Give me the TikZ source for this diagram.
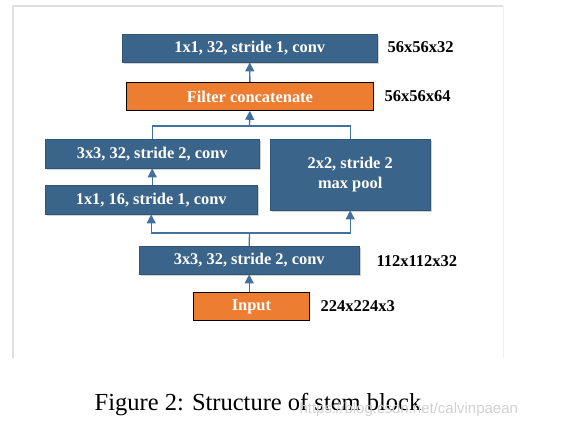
\documentclass[tikz,border=0pt]{standalone}
\usepackage{fontspec}
\setmainfont{Liberation Serif}
\newfontfamily\marksans{Liberation Sans}
\usetikzlibrary{shadows,arrows.meta}
\definecolor{convblue}{HTML}{3A6489}
\definecolor{linkblue}{HTML}{41719C}
\definecolor{concatorange}{HTML}{ED7D31}
\tikzset{
  layer/.style={rectangle, anchor=north west, inner sep=0pt, text=white, align=center,
    font=\bfseries\fontsize{16.4}{20}\selectfont},
  convbox/.style={layer, fill=convblue, draw=convblue!85!black,
    drop shadow={shadow xshift=1.5pt, shadow yshift=-2pt, opacity=0.35}},
  orangebox/.style={layer, fill=concatorange, draw=black, line width=0.8pt},
  dimlabel/.style={anchor=west, font=\bfseries\fontsize{16.5}{19}\selectfont},
  link/.style={draw=linkblue, line width=1.3pt},
  uparrow/.style={link, -{Triangle[width=9pt,length=9pt]}}
}
\begin{document}
\begin{tikzpicture}[x=1pt,y=-1pt]
  \useasboundingbox[fill=white] (0,0) rectangle (563,426);
  % panel frame
  \draw[gray!25, line width=1.5pt] (13,358) -- (13,6) -- (503,6);
  \draw[gray!12, line width=1pt] (503,6) -- (503,358);

  % layers, bottom to top
  \node[orangebox, minimum width=116pt, minimum height=28pt] (input) at (193,292) {Input};
  \node[convbox, minimum width=220pt, minimum height=28pt] (stem) at (139,246) {3x3, 32, stride 2, conv};
  \node[convbox, minimum width=212pt, minimum height=29pt] (c1a) at (45,185) {1x1, 16, stride 1, conv};
  \node[convbox, minimum width=214pt, minimum height=29pt] (c3a) at (45,139) {3x3, 32, stride 2, conv};
  \node[convbox, minimum width=160pt, minimum height=71pt] (pool) at (270,139) {2x2, stride 2\\max pool};
  \node[orangebox, minimum width=247pt, minimum height=28pt] (concat) at (126,82) {Filter concatenate};
  \node[convbox, minimum width=255pt, minimum height=28pt] (top) at (122,34) {1x1, 32, stride 1, conv};

  % feature map sizes
  \node[dimlabel] (dtop) at (384,47) {56x56x32};
  \node[dimlabel] (dconcat) at (381,96) {56x56x64};
  \node[dimlabel] (dstem) at (373,261) {112x112x32};
  \node[dimlabel] (dinput) at (317,306) {224x224x3};

  % connectors
  \coordinate (fork) at (249.5,233);
  \coordinate (join) at (249.5,126);
  \draw[uparrow] (input.north -| stem) -- (stem.south);
  \draw[link] (stem.north) -- (fork);
  \draw[uparrow] (fork) -| (c1a.south);
  \draw[uparrow] (fork) -| (pool.south);
  \draw[uparrow] (c1a.north -| c3a) -- (c3a.south);
  \draw[link] (c3a.north) -- (c3a.north |- join) -- (pool.north |- join) -- (pool.north);
  \draw[uparrow] (join) -- (concat.south);
  \draw[uparrow] (concat.north) -- (top.south);

  % caption
  \node[font=\fontsize{24.5}{28}\selectfont] (caption) at (258,405) {Figure 2: Structure of stem block};
  \node[anchor=west, text=gray!35, font=\marksans\fontsize{15}{17}\selectfont] (mark) at (296,410) {https://blog.csdn.net/calvinpaean};
\end{tikzpicture}
\end{document}
